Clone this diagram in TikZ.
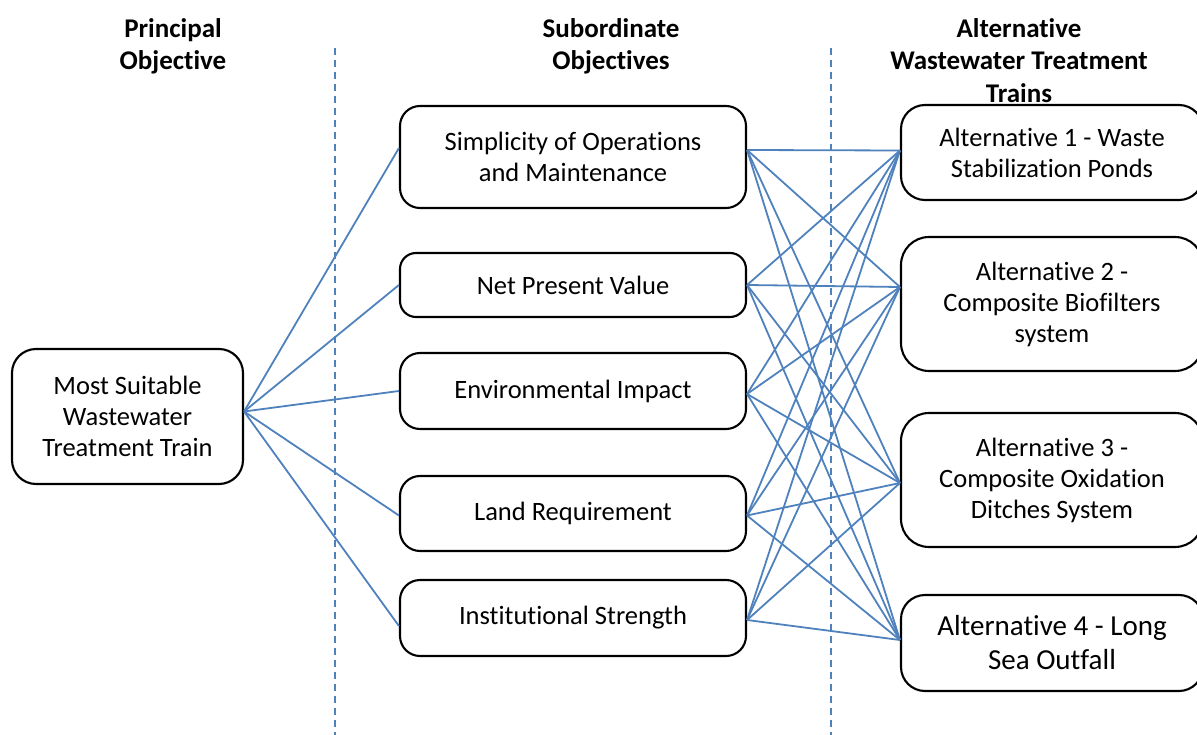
\documentclass[tikz,border=0pt]{standalone}
\usepackage{fontspec}
\setmainfont[Ligatures={NoCommon,NoRequired,NoContextual},RawFeature=-dlig]{Carlito}
\usetikzlibrary{arrows}
\definecolor{linkblue}{RGB}{79,129,189}

\begin{document}
\begin{tikzpicture}[x=1pt,y=1pt,
  main node/.style={draw,line width=2.1pt,rounded corners=20pt,align=center,inner sep=0pt,font=\fontsize{26.5pt}{31pt}\selectfont},
  head node/.style={anchor=north,align=center,inner sep=0pt,font=\fontsize{27pt}{32.5pt}\selectfont\bfseries},
  divider/.style={draw=linkblue,line width=1.7pt,dash pattern=on 7pt off 5pt}]
  \useasboundingbox (0,0) rectangle (1197,-735);

  \node[head node] (h1) at (173,-18) {Principal\\Objective};
  \node[head node] (h2) at (611,-18) {Subordinate\\Objectives};
  \node[head node] (h3) at (1019,-18) {Alternative\\Wastewater Treatment\\Trains};

  \draw[divider] (335,-48) -- (335,-735);
  \draw[divider] (831,-48) -- (831,-735);

  \node[main node,minimum width=231pt,minimum height=135pt,rounded corners=24pt] (g) at (127.5,-416.5) {Most Suitable\\Wastewater\\Treatment Train};

  \node[main node,minimum width=346pt,minimum height=102pt] (s1) at (573,-157) {Simplicity of Operations\\and Maintenance};
  \node[main node,minimum width=346pt,minimum height=64pt,rounded corners=16pt] (s2) at (573,-285) {Net Present Value};
  \node[main node,minimum width=346pt,minimum height=76pt] (s3) at (573,-391) {Environmental Impact};
  \node[main node,minimum width=346pt,minimum height=75pt] (s4) at (573,-513.5) {Land Requirement};
  \node[main node,minimum width=346pt,minimum height=76pt] (s5) at (573,-618) {Institutional Strength};

  \node[main node,minimum width=302pt,minimum height=95pt,rounded corners=24pt] (a1) at (1052,-152.5) {Alternative 1 - Waste\\Stabilization Ponds};
  \node[main node,minimum width=302pt,minimum height=134pt,rounded corners=28pt] (a2) at (1052,-304) {Alternative 2 -\\Composite Biofilters\\system};
  \node[main node,minimum width=302pt,minimum height=134pt,rounded corners=28pt] (a3) at (1052,-480) {Alternative 3 -\\Composite Oxidation\\Ditches System};
  \node[main node,minimum width=302pt,minimum height=96pt,rounded corners=24pt,font=\fontsize{29pt}{34pt}\selectfont] (a4) at (1052,-643) {Alternative 4 - Long\\Sea Outfall};

\path[every edge/.style={draw=linkblue,line width=1.8pt}]
  ([yshift=5pt]g.east) edge ([yshift=9pt]s1.west)
  ([yshift=5pt]g.east) edge (s2.west)
  ([yshift=5pt]g.east) edge (s3.west)
  ([yshift=5pt]g.east) edge ([yshift=-2pt]s4.west)
  ([yshift=5pt]g.east) edge ([yshift=-8pt]s5.west)
  ([yshift=7pt]s1.east) edge ([yshift=2pt]a1.west)
  ([yshift=7pt]s1.east) edge ([yshift=17pt]a2.west)
  ([yshift=7pt]s1.east) edge ([yshift=-3pt]a3.west)
  ([yshift=7pt]s1.east) edge ([yshift=3pt]a4.west)
  (s2.east) edge ([yshift=2pt]a1.west)
  (s2.east) edge ([yshift=17pt]a2.west)
  (s2.east) edge ([yshift=-3pt]a3.west)
  (s2.east) edge ([yshift=3pt]a4.west)
  ([yshift=-3pt]s3.east) edge ([yshift=2pt]a1.west)
  ([yshift=-3pt]s3.east) edge ([yshift=17pt]a2.west)
  ([yshift=-3pt]s3.east) edge ([yshift=-3pt]a3.west)
  ([yshift=-3pt]s3.east) edge ([yshift=3pt]a4.west)
  ([yshift=-2pt]s4.east) edge ([yshift=2pt]a1.west)
  ([yshift=-2pt]s4.east) edge ([yshift=17pt]a2.west)
  ([yshift=-2pt]s4.east) edge ([yshift=-3pt]a3.west)
  ([yshift=-2pt]s4.east) edge ([yshift=3pt]a4.west)
  ([yshift=-2pt]s5.east) edge ([yshift=2pt]a1.west)
  ([yshift=-2pt]s5.east) edge ([yshift=17pt]a2.west)
  ([yshift=-2pt]s5.east) edge ([yshift=-3pt]a3.west)
  ([yshift=-2pt]s5.east) edge ([yshift=3pt]a4.west)
;
\end{tikzpicture}
\end{document}
